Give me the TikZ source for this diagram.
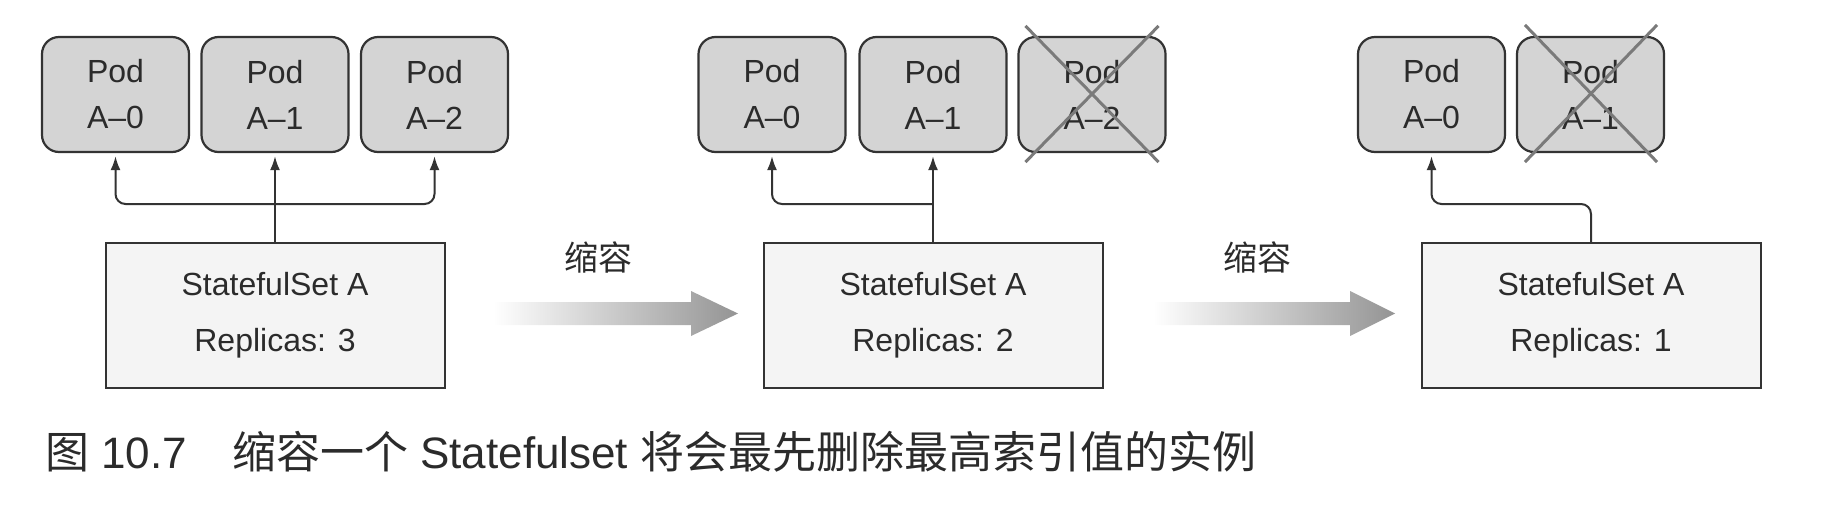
\documentclass[tikz,border=0pt]{standalone}
\usepackage{fontspec}
\setmainfont{Liberation Sans}
\newfontfamily\cjk{Noto Sans CJK SC}
\usetikzlibrary{arrows.meta,calc}
\definecolor{linec}{HTML}{333333}
\definecolor{podfill}{HTML}{D4D4D4}
\definecolor{boxfill}{HTML}{F4F4F4}
\definecolor{crossc}{HTML}{7A7A7A}
\definecolor{txt}{HTML}{2B2B2B}
\begin{document}
\begin{tikzpicture}[x=1pt,y=-1pt,
  pod/.style={draw=linec, line width=2.2pt, fill=podfill, rounded corners=17pt,
    minimum width=147pt, minimum height=115pt, inner sep=0pt, align=center,
    font=\fontsize{32}{46}\selectfont, text=txt},
  ssbox/.style={draw=linec, line width=2pt, fill=boxfill, minimum width=339pt,
    minimum height=145pt, inner sep=0pt, align=center,
    font=\fontsize{32}{56}\selectfont, text=txt},
  conn/.style={draw=linec, line width=2pt, -{Latex[length=14pt,width=10pt]}, shorten >=3pt},
  cross/.style={draw=crossc, line width=3pt},
  lbl/.style={font=\cjk\fontsize{34}{34}\selectfont, text=txt},
  grad/.style={left color=white, right color=black!42},
]
\useasboundingbox (0,0) rectangle (1828,512);

% ---------- group 1 ----------
\node[pod] (g1a) at (115.5,94.5) {Pod\\A–0};
\node[pod] (g1b) at (275,94.5) {Pod\\A–1};
\node[pod] (g1c) at (434.5,94.5) {Pod\\A–2};
\node[ssbox] (b1) at (275,315.5) {StatefulSet A\\Replicas: 3};
\path (b1.north) ++(0,-38) coordinate (j1);
\draw[conn] (b1.north) -- (g1b.south);
\draw[conn, rounded corners=10pt] (j1) -| (g1a.south);
\draw[conn, rounded corners=10pt] (j1) -| (g1c.south);

% ---------- arrow 1 ----------
\node[lbl] (s1) at (598,257) {缩容};
\shade[grad] (493,302) -- (691,302) -- (691,291) -- (738,313.5) -- (691,336) -- (691,325) -- (493,325) -- cycle;

% ---------- group 2 ----------
\node[pod] (g2a) at (772,94.5) {Pod\\A–0};
\node[pod] (g2b) at (933,94.5) {Pod\\A–1};
\node[pod] (g2c) at (1092,94.5) {Pod\\A–2};
\draw[cross] ($(g2c.north west)+(8,-10)$) -- ($(g2c.south east)+(-8,9)$);
\draw[cross] ($(g2c.north east)+(-8,-10)$) -- ($(g2c.south west)+(8,9)$);
\node[ssbox] (b2) at (933,315.5) {StatefulSet A\\Replicas: 2};
\path (b2.north) ++(0,-38) coordinate (j2);
\draw[conn] (b2.north) -- (g2b.south);
\draw[conn, rounded corners=10pt] (j2) -| (g2a.south);

% ---------- arrow 2 ----------
\node[lbl] (s2) at (1257,257) {缩容};
\shade[grad] (1153,302) -- (1350,302) -- (1350,291) -- (1395,313.5) -- (1350,336) -- (1350,325) -- (1153,325) -- cycle;

% ---------- group 3 ----------
\node[pod] (g3a) at (1431.5,94.5) {Pod\\A–0};
\node[pod] (g3b) at (1590.5,94.5) {Pod\\A–1};
\draw[cross] ($(g3b.north west)+(9,-11)$) -- ($(g3b.south east)+(-8,9)$);
\draw[cross] ($(g3b.north east)+(-8,-11)$) -- ($(g3b.south west)+(9,9)$);
\node[ssbox] (b3) at (1591,315.5) {StatefulSet A\\Replicas: 1};
\path (b3.north) ++(0,-38) coordinate (j3);
\draw[conn, rounded corners=10pt] (b3.north) -- (j3) -| (g3a.south);

% ---------- caption ----------
\node[anchor=base west, inner sep=0pt, text=txt, font=\fontsize{44}{44}\selectfont] (cap) at (45,468)
  {{\cjk\fontsize{44}{44}\selectfont 图} 10.7\hspace{45pt}{\cjk\fontsize{44}{44}\selectfont 缩容一个} Statefulset {\cjk\fontsize{44}{44}\selectfont 将会最先删除最高索引值的实例}};
\end{tikzpicture}
\end{document}
